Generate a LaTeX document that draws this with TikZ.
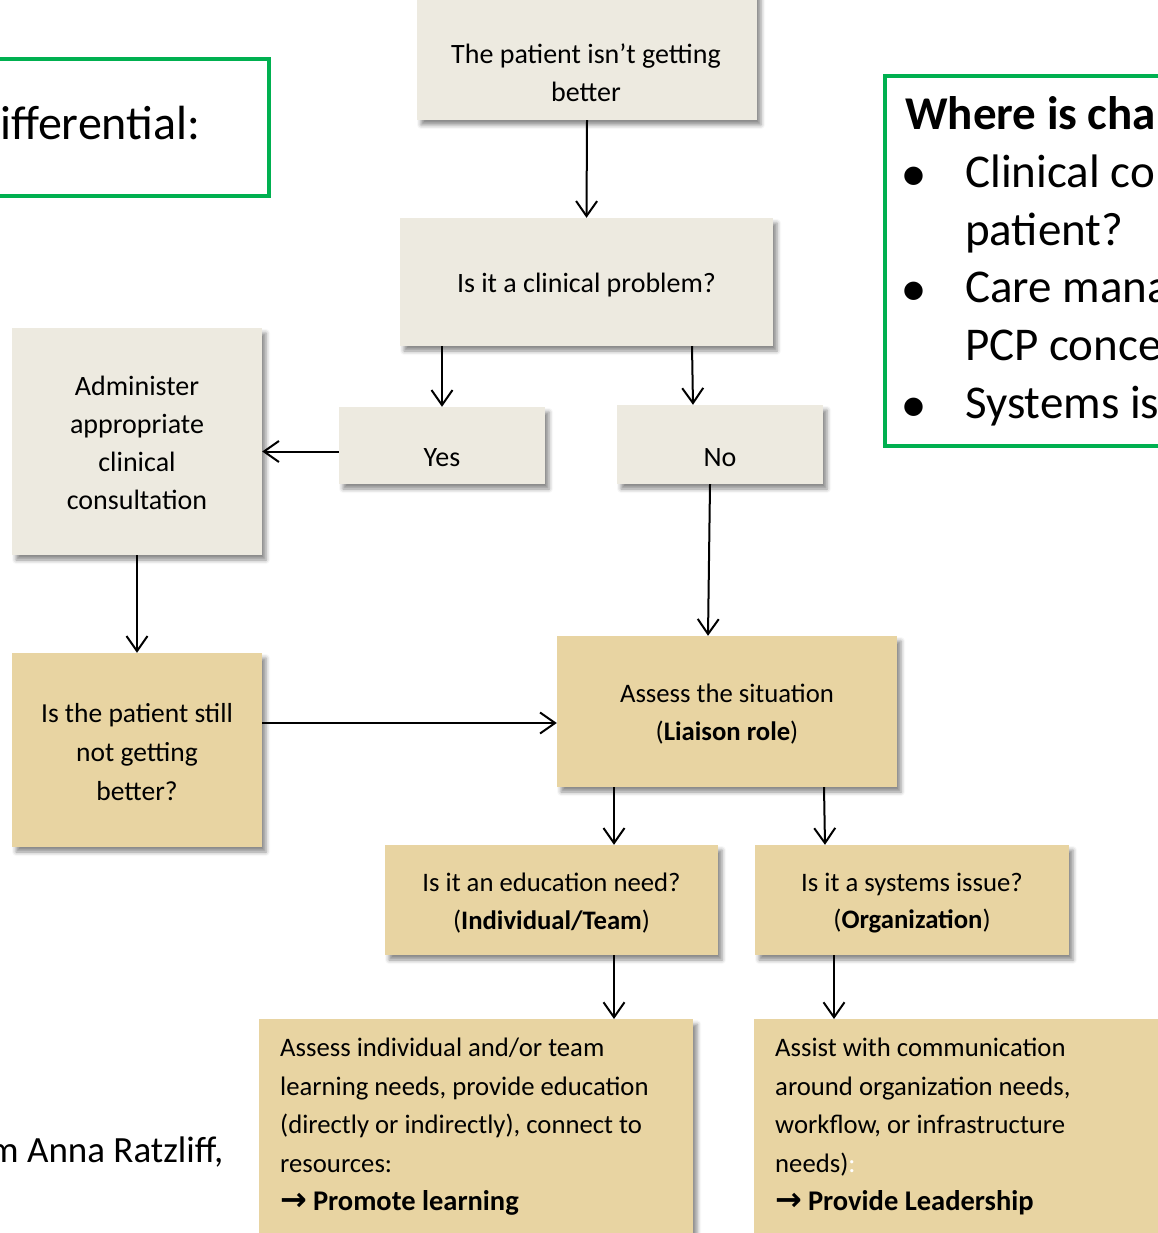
\documentclass[tikz,border=0pt]{standalone}
\usepackage{fontspec}
\setmainfont{Carlito}
\newfontfamily\arrfont{DejaVu Sans}
\newfontfamily\bulfont{DejaVu Sans}
\usetikzlibrary{arrows.meta,shadows.blur,calc}
\definecolor{boxlight}{HTML}{EDEAE0}
\definecolor{boxtan}{HTML}{E8D4A2}
\definecolor{frgreen}{HTML}{00B050}
\begin{document}
\begin{tikzpicture}[x=1pt,y=-1pt,
 pbox/.style={rectangle, inner sep=0pt, blur shadow={shadow xshift=4pt,shadow yshift=-5pt,shadow blur radius=4pt,shadow opacity=45}},
 lightbox/.style={pbox, fill=boxlight},
 tanbox/.style={pbox, fill=boxtan},
 btxt/.style={inner sep=0pt, align=center, font=\fontsize{28}{38}\selectfont},
 ttxt/.style={inner sep=0pt, align=center, font=\fontsize{26.7}{37.5}\selectfont},
 ltxt/.style={inner sep=0pt, align=left, anchor=north west, font=\fontsize{26.7}{38.5}\selectfont},
 bigtxt/.style={inner sep=0pt, anchor=base west, font=\fontsize{47}{57}\selectfont},
 bul/.style={inner sep=0pt, anchor=base west, font=\fontsize{24}{30}\bulfont},
 arr/.style={line width=2pt, -{Straight Barb[length=15pt,width=21pt]}},
 gframe/.style={draw=frgreen, line width=4pt, rectangle, inner sep=0pt},
]
\useasboundingbox (0,0) rectangle (1157,1233);

% green framed boxes
\node[gframe, minimum width=300pt, minimum height=137pt, anchor=north east] (gl) at (271,57) {};
\node[bigtxt, font=\fontsize{48}{57}\selectfont] (gltxt) at (0,140) {ifferential:};
\node[gframe, minimum width=320pt, minimum height=370pt, anchor=north west] (gr) at (883,74) {};
\node[bigtxt, font=\fontsize{47}{57}\bfseries] (grh) at (905,130) {Where is cha};
\node[bul] (bu1) at (903,183) {●};
\node[bigtxt] (gr1) at (965,188) {Clinical co};
\node[bigtxt] (gr2) at (965,245) {patient?};
\node[bul] (bu2) at (903,297) {●};
\node[bigtxt] (gr3) at (965,302) {Care mana};
\node[bigtxt] (gr4) at (965,360) {PCP conce};
\node[bul] (bu3) at (903,413) {●};
\node[bigtxt] (gr5) at (965,418) {Systems is};
\node[bigtxt, font=\fontsize{37}{44}\selectfont] (credit) at (-11,1162) {m Anna Ratzliff,};

% flow boxes
\node[lightbox, minimum width=340pt, minimum height=150pt] (top) at (587,45) {};
\node[btxt] (toptxt) at (586,73) {The patient isn’t getting\\better};
\node[lightbox, minimum width=373pt, minimum height=128pt] (clin) at (586.5,282) {};
\node[btxt] (clintxt) at (586.5,285) {Is it a clinical problem?};
\node[lightbox, minimum width=250pt, minimum height=227pt] (admin) at (137,441.5) {};
\node[btxt] (admintxt) at (137,443) {Administer\\appropriate\\clinical\\consultation};
\node[lightbox, minimum width=206pt, minimum height=77pt] (yes) at (442,445.5) {};
\node[btxt] (yestxt) at (442,458) {Yes};
\node[lightbox, minimum width=206pt, minimum height=79pt] (no) at (720,444.5) {};
\node[btxt] (notxt) at (720,458) {No};
\node[tanbox, minimum width=250pt, minimum height=194pt] (still) at (137,750) {};
\node[ttxt, font=\fontsize{27.5}{39}\selectfont] (stilltxt) at (137,752) {Is the patient still\\not getting\\better?};
\node[tanbox, minimum width=340pt, minimum height=151pt] (assess) at (727,711.5) {};
\node[ttxt] (assesstxt) at (727,714) {Assess the situation\\(\textbf{Liaison role})};
\node[tanbox, minimum width=333pt, minimum height=110pt] (edu) at (551.5,900) {};
\node[ttxt] (edutxt) at (551.5,903) {Is it an education need?\\(\textbf{Individual/Team})};
\node[tanbox, minimum width=314pt, minimum height=110pt] (sys) at (912,900) {};
\node[ttxt] (systxt) at (912,903) {Is it a systems issue?\\(\textbf{Organization})};
\node[tanbox, minimum width=434pt, minimum height=260pt, anchor=north west] (learn) at (259,1019) {};
\node[ltxt] (learntxt) at (280,1038) {Assess individual and/or team\\learning needs, provide education\\(directly or indirectly), connect to\\resources:\\{\arrfont\bfseries\fontsize{32}{38.5}\selectfont →} {\fontsize{28.5}{38.5}\selectfont\textbf{Promote learning}}};
\node[tanbox, minimum width=440pt, minimum height=260pt, anchor=north west] (lead) at (754,1019) {};
\node[ltxt] (leadtxt) at (775,1038) {Assist with communication\\around organization needs,\\workflow, or infrastructure\\needs)\textcolor{white}{:}\\{\arrfont\bfseries\fontsize{32}{38.5}\selectfont →} {\fontsize{28.5}{38.5}\selectfont\textbf{Provide Leadership}}};

% connectors
\draw[arr] (top.south) -- (clin.north);
\draw[arr] (clin.south -| yes.north) -- (yes.north);
\draw[arr] ([xshift=105.5pt]clin.south) -- ([xshift=-27pt]no.north);
\draw[arr] ([yshift=-6pt]yes.west) -- ([yshift=-6pt]yes.west -| admin.east);
\draw[arr] (admin.south) -- (still.north);
\draw[arr] ([yshift=-11.5pt]assess.west -| still.east) -- ([yshift=-11.5pt]assess.west);
\draw[arr] ([xshift=-10pt]no.south) -- ([xshift=-19pt]assess.north);
\draw[arr] ([xshift=-113pt]assess.south) -- ([xshift=62.5pt]edu.north);
\draw[arr] ([xshift=97pt]assess.south) -- ([xshift=-87pt]sys.north);
\draw[arr] ([xshift=62.5pt]edu.south) -- ([xshift=62.5pt]edu.south |- learn.north);
\draw[arr] ([xshift=-78pt]sys.south) -- ([xshift=-78pt]sys.south |- lead.north);
\end{tikzpicture}
\end{document}
